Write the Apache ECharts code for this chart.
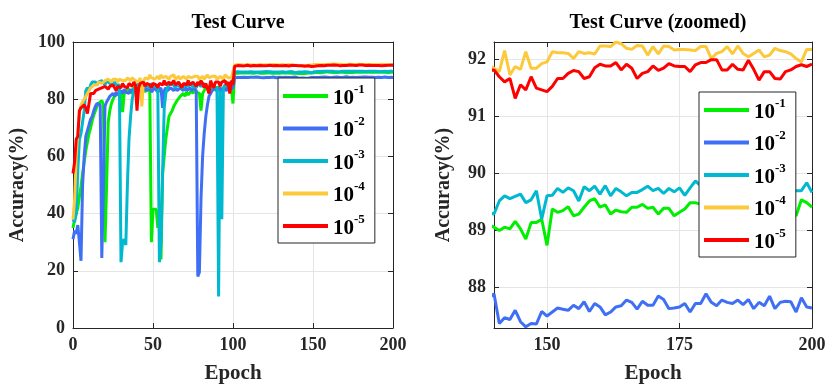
<!DOCTYPE html>
<html>
<head>
<meta charset="utf-8">
<script src="https://cdn.jsdelivr.net/npm/echarts@6/dist/echarts.min.js"></script>
<style>
  html, body { margin: 0; padding: 0; background: #fff; }
  #chart { width: 830px; height: 389px; }
</style>
</head>
<body>
<div id="chart"></div>
<script>
// accuracy per epoch (index = epoch 0..200)
const acc1 = [ // 10^-1
  35, 38, 40, 42, 46, 49.5, 54, 58, 62, 65,
  68, 70, 72.5, 74.5, 76, 77.5, 78.5, 79, 79.5, 78,
  30, 50, 72, 76, 78.5, 80, 81, 80.5, 82, 81.5,
  82, 75.5, 82, 83, 82.5, 83.5, 82, 83, 84, 83,
  82.5, 84, 83, 83.5, 84, 82.5, 83.5, 84, 83, 30,
  41.5, 41, 41.5, 35, 40, 24, 54, 60, 66, 70,
  74, 75, 76, 77.5, 78, 79.5, 80, 81, 80.5, 82,
  81, 82.5, 81.5, 82, 83, 82, 83.5, 82.5, 83, 82,
  76, 82, 83, 84, 83.5, 84, 83, 84.5, 83.5, 84,
  83, 84.5, 83.5, 84, 83, 84, 83.5, 84.5, 83, 84,
  78.5, 89.1, 89.2, 89.05, 89.15, 89.25, 89.1, 89.2, 89.3, 89.15,
  89.05, 89.2, 89.25, 89.1, 89.2, 89.3, 89.15, 89.05, 89.2, 89.1,
  89.25, 89.15, 89.05, 89.2, 89.3, 89.1, 89.2, 89.15, 89.25, 89.05,
  89.15, 89.2, 89.1, 89.25, 89.0, 89.15, 89.2, 89.1, 89.05, 89.1,
  89.05, 88.99, 89.05, 89.02, 89.15, 89.02, 88.84, 89.13, 89.13, 89.19,
  88.73, 89.37, 89.31, 89.34, 89.41, 89.25, 89.28, 89.40, 89.51, 89.55,
  89.40, 89.44, 89.28, 89.35, 89.32, 89.31, 89.40, 89.40, 89.45, 89.38,
  89.40, 89.28, 89.38, 89.38, 89.25, 89.31, 89.37, 89.48, 89.48, 89.45,
  89.40, 89.46, 89.38, 89.44, 89.50, 89.42, 89.36, 89.45, 89.40, 89.47,
  89.39, 89.44, 89.35, 89.42, 89.48, 89.38, 89.30, 89.25, 89.53, 89.48,
  89.40
];
const acc2 = [ // 10^-2
  31, 34, 33, 36, 30, 23.5, 50, 60, 67, 69,
  71, 73, 74, 76, 77.5, 78.5, 79, 78, 24.5, 50,
  77.5, 79, 80, 81, 80.5, 82, 81, 82.5, 81.5, 82,
  83, 82, 83.5, 82.5, 83, 82, 83.5, 82.5, 83, 84,
  82.5, 83, 84, 83, 82.5, 84, 83, 83.5, 84, 82.5,
  83, 84, 83.5, 82.5, 83, 84, 77, 83, 84, 83,
  82.5, 84, 83.5, 83, 84, 83, 82.5, 84, 83.5, 83,
  84.5, 83, 83.5, 84, 83, 82.5, 84, 83, 18, 19.5,
  45, 60, 68, 74, 78, 81, 82, 83, 82.5, 84,
  83, 83.5, 84, 82.5, 84, 83.5, 83, 84.5, 83.5, 84,
  84, 87.5, 87.6, 87.55, 87.7, 87.6, 87.5, 87.65, 87.7, 87.55,
  87.6, 87.7, 87.5, 87.65, 87.6, 87.75, 87.55, 87.6, 87.7, 87.5,
  87.65, 87.6, 87.7, 87.55, 87.65, 87.75, 87.6, 87.5, 87.65, 87.7,
  87.55, 87.6, 87.7, 87.65, 87.5, 87.6, 87.75, 87.65, 87.7, 87.8,
  87.88, 87.36, 87.46, 87.43, 87.59, 87.39, 87.30, 87.36, 87.35, 87.57,
  87.49, 87.56, 87.63, 87.61, 87.59, 87.68, 87.62, 87.74, 87.57, 87.71,
  87.65, 87.51, 87.56, 87.65, 87.67, 87.77, 87.73, 87.61, 87.75, 87.68,
  87.68, 87.84, 87.78, 87.62, 87.63, 87.65, 87.71, 87.56, 87.71, 87.71,
  87.88, 87.73, 87.67, 87.77, 87.73, 87.71, 87.77, 87.69, 87.78, 87.62,
  87.73, 87.67, 87.84, 87.62, 87.73, 87.75, 87.74, 87.56, 87.81, 87.65,
  87.63
];
const acc3 = [ // 10^-3
  38, 37, 40, 55, 66, 68, 72, 76, 83, 84,
  83, 85, 86, 85.5, 86, 85, 86, 85.5, 86.5, 86,
  85, 86.5, 86, 85.5, 86, 85, 86, 85, 84.5, 85,
  23, 30, 31, 29, 50, 66, 74, 80, 83, 84,
  85, 84.5, 85.5, 84, 85, 85.5, 84.5, 85, 84, 85.5,
  85, 84.5, 85, 84, 23, 30, 54, 77, 82, 84,
  85, 84.5, 85.5, 85, 84, 85, 85.5, 84.5, 85, 84,
  85.5, 85, 84.5, 85, 85.5, 84, 85, 84, 85.5, 85,
  84.5, 85, 85.5, 84.5, 85, 84, 85.5, 85, 84.5, 85,
  84, 11, 83, 38, 84, 85, 84.5, 85.5, 84, 85,
  84.5, 89.4, 89.5, 89.6, 89.45, 89.55, 89.6, 89.5, 89.65, 89.55,
  89.5, 89.6, 89.45, 89.55, 89.65, 89.5, 89.6, 89.55, 89.45, 89.6,
  89.55, 89.65, 89.5, 89.6, 89.45, 89.55, 89.65, 89.5, 89.6, 89.55,
  89.5, 89.6, 89.65, 89.45, 89.55, 89.6, 89.5, 89.65, 89.4, 89.3,
  89.28, 89.51, 89.60, 89.55, 89.59, 89.63, 89.48, 89.53, 89.69, 89.19,
  89.60, 89.61, 89.73, 89.66, 89.74, 89.69, 89.51, 89.76, 89.69, 89.77,
  89.63, 89.78, 89.60, 89.73, 89.67, 89.60, 89.66, 89.66, 89.71, 89.77,
  89.69, 89.73, 89.64, 89.73, 89.67, 89.74, 89.61, 89.74, 89.86, 89.78,
  89.72, 89.80, 89.75, 89.70, 89.78, 89.73, 89.68, 89.76, 89.72, 89.79,
  89.74, 89.70, 89.77, 89.72, 89.68, 89.75, 89.70, 89.69, 89.69, 89.83,
  89.66
];
const acc4 = [ // 10^-4
  38, 45, 60, 68, 75, 78, 79, 80, 80.5, 82,
  83, 84, 84.5, 85, 85.5, 85, 86, 86.5, 85.5, 86,
  86.5, 86, 87, 86.5, 86, 87, 86.5, 87, 86, 87,
  87.5, 86.5, 87, 86.5, 87.5, 87, 86.5, 87.5, 87, 86.5,
  87, 86, 87.5, 77.5, 86, 87.5, 88, 87, 88.5, 87.5,
  88, 87, 87.5, 88, 87, 88.5, 87.5, 87, 88, 87.5,
  87, 88, 87.5, 88.5, 87, 87.5, 88, 87, 87.5, 88,
  87.5, 87, 88, 88.5, 87.5, 87, 88, 87.5, 88, 87,
  87.5, 88, 87, 87.5, 88.5, 87.5, 87, 88, 87.5, 88,
  87, 87.5, 88, 87.5, 87, 88.5, 88, 87.5, 88, 87.5,
  88, 91.9, 92.0, 92.1, 91.95, 92.05, 92.1, 91.9, 92.0, 92.15,
  92.05, 91.95, 92.1, 92.0, 92.1, 91.9, 92.05, 92.15, 92.0, 91.95,
  92.1, 92.05, 92.15, 91.95, 92.0, 92.1, 91.9, 92.05, 92.1, 92.0,
  91.95, 92.15, 92.05, 91.9, 92.0, 92.1, 91.95, 91.85, 92.05, 91.9,
  91.84, 91.78, 92.15, 91.72, 91.87, 91.82, 92.13, 91.84, 91.84, 91.92,
  91.95, 92.13, 92.11, 92.11, 92.10, 92.01, 92.13, 92.10, 92.11, 92.09,
  92.23, 92.23, 92.22, 92.30, 92.27, 92.19, 92.17, 92.24, 92.23, 92.07,
  92.22, 92.09, 92.23, 92.22, 92.16, 92.17, 92.17, 92.16, 92.15, 92.22,
  92.22, 92.01, 92.10, 92.13, 92.22, 92.09, 92.23, 92.10, 92.04, 92.10,
  92.16, 92.04, 92.07, 92.19, 92.15, 92.13, 92.09, 92.01, 91.95, 92.17,
  92.17
];
const acc5 = [ // 10^-5
  54, 58, 66, 67, 76, 77, 77.5, 78, 77, 75,
  74.5, 82, 82.5, 82, 83, 82.5, 83.5, 83, 84, 83.5,
  84.5, 84, 83.5, 84.5, 84, 85, 84, 83, 84.5, 85,
  84, 85.5, 84.5, 85, 84, 85.5, 85, 84.5, 86, 85,
  76, 84, 85.5, 85, 86, 84.5, 85.5, 86, 85, 84,
  85.5, 86, 85, 84, 85.5, 86, 85, 86.5, 85, 84.5,
  86, 85, 85.5, 86.5, 85, 84.5, 86, 85.5, 84, 85.5,
  86, 85, 86.5, 85, 84.5, 86, 85.5, 84.5, 86, 85,
  86.5, 85.5, 84, 85.5, 86, 82, 86.5, 85, 84, 86,
  85.5, 86, 84.5, 86, 85.5, 86.5, 85, 86, 82, 86.5,
  85, 91.5, 91.6, 91.75, 91.6, 91.7, 91.8, 91.65, 91.7, 91.85,
  91.7, 91.6, 91.75, 91.8, 91.65, 91.7, 91.85, 91.75, 91.6, 91.7,
  91.8, 91.7, 91.65, 91.85, 91.75, 91.7, 91.6, 91.8, 91.75, 91.7,
  91.85, 91.7, 91.65, 91.8, 91.75, 91.6, 91.7, 91.85, 91.75, 91.8,
  91.81, 91.69, 91.60, 91.66, 91.31, 91.55, 91.46, 91.69, 91.49, 91.46,
  91.43, 91.52, 91.66, 91.66, 91.75, 91.80, 91.78, 91.66, 91.69, 91.85,
  91.91, 91.88, 91.88, 91.94, 91.81, 91.91, 91.84, 91.66, 91.75, 91.78,
  91.88, 91.80, 91.84, 91.92, 91.88, 91.87, 91.87, 91.78, 91.90, 91.94,
  91.94, 91.99, 91.99, 91.81, 91.81, 91.91, 91.82, 91.81, 91.98, 91.82,
  91.63, 91.78, 91.78, 91.66, 91.65, 91.78, 91.81, 91.87, 91.90, 91.87,
  91.91
];

const seriesNames = ['10^-1', '10^-2', '10^-3', '10^-4', '10^-5'];
const seriesData = [acc1, acc2, acc3, acc4, acc5];
const seriesColors = ['#00ee00', '#3f6ff5', '#00b8d0', '#fcc93b', '#ff0000'];
const zoomTicksX = [150, 175, 200];
const zoomTicksY = [88, 89, 90, 91, 92];

const font = '"Liberation Serif", "Times New Roman", serif';
const ink = '#262626';
const labelStyle = { fontFamily: font, fontWeight: 'bold', fontSize: 18, color: ink };
const nameStyle = { fontFamily: font, fontWeight: 'bold', fontSize: 20, color: ink };
const epochStyle = { fontFamily: font, fontWeight: 'bold', fontSize: 21, color: ink };
const titleStyle = { fontFamily: font, fontWeight: 'bold', fontSize: 20, color: '#000' };

const axisCommon = {
  type: 'value',
  axisLine: { show: true, onZero: false, lineStyle: { color: ink, width: 1 } },
  axisTick: { show: true, inside: true, length: 5, lineStyle: { color: ink } },
  splitLine: { show: false }
};

function axis(extra) {
  return Object.assign({}, axisCommon, extra);
}

const gridLine = { show: true, lineStyle: { color: '#e5e5e5', width: 1 } };

const myChart = echarts.init(document.getElementById('chart'));

const series = [];
seriesData.forEach((arr, i) => {
  const pts = arr.map((v, epoch) => [epoch, v]);
  [[0, 0], [2, 2]].forEach(([xi, yi]) => {
    series.push({
      name: seriesNames[i],
      type: 'line',
      xAxisIndex: xi,
      yAxisIndex: yi,
      data: pts,
      symbol: 'none',
      color: seriesColors[i],
      lineStyle: { width: 3, color: seriesColors[i] },
      clip: true
    });
  });
});

const legendCommon = {
  orient: 'vertical',
  icon: 'rect',
  itemWidth: 45,
  itemHeight: 4,
  itemGap: 6.5,
  padding: [5, 10, 4, 5],
  backgroundColor: '#fff',
  borderColor: ink,
  borderWidth: 1,
  borderRadius: 0,
  z: 10,
  data: seriesNames,
  formatter: (name) => '{b|10}{s|' + name.split('^')[1] + '}',
  textStyle: {
    rich: {
      b: { fontFamily: font, fontWeight: 'bold', fontSize: 21, color: '#000', lineHeight: 26, verticalAlign: 'bottom' },
      s: { fontFamily: font, fontWeight: 'bold', fontSize: 13, color: '#000', lineHeight: 14, verticalAlign: 'top' }
    }
  }
};

const option = {
  animation: false,
  backgroundColor: '#fff',
  title: [
    { text: 'Test Curve', left: 233, top: 8, textAlign: 'center', textStyle: titleStyle },
    { text: 'Test Curve (zoomed)', left: 653, top: 8, textAlign: 'center', textStyle: titleStyle }
  ],
  legend: [
    Object.assign({ left: 278, top: 78 }, legendCommon),
    Object.assign({ left: 699, top: 92 }, legendCommon)
  ],
  grid: [
    { left: 73, right: 437, top: 42, bottom: 60 },
    { left: 494, right: 18, top: 42, bottom: 60 }
  ],
  xAxis: [
    axis({ gridIndex: 0, min: 0, max: 200, interval: 50, position: 'bottom',
      axisLabel: Object.assign({ margin: 8 }, labelStyle), splitLine: gridLine,
      name: 'Epoch', nameLocation: 'middle', nameGap: 35, nameTextStyle: epochStyle }),
    axis({ gridIndex: 0, min: 0, max: 200, interval: 50, position: 'top', axisLabel: { show: false } }),
    axis({ gridIndex: 1, min: 140, max: 200, position: 'bottom',
      axisTick: Object.assign({}, axisCommon.axisTick, { customValues: zoomTicksX }),
      axisLabel: Object.assign({ margin: 8, customValues: zoomTicksX }, labelStyle), splitLine: gridLine,
      name: 'Epoch', nameLocation: 'middle', nameGap: 35, nameTextStyle: epochStyle }),
    axis({ gridIndex: 1, min: 140, max: 200, position: 'top', axisLabel: { show: false },
      axisTick: Object.assign({}, axisCommon.axisTick, { customValues: zoomTicksX }) })
  ],
  yAxis: [
    axis({ gridIndex: 0, min: 0, max: 100, interval: 20, position: 'left',
      axisLabel: Object.assign({ margin: 8 }, labelStyle), splitLine: gridLine,
      name: 'Accuracy(%)', nameLocation: 'middle', nameGap: 45, nameTextStyle: nameStyle }),
    axis({ gridIndex: 0, min: 0, max: 100, interval: 20, position: 'right', axisLabel: { show: false } }),
    axis({ gridIndex: 1, min: 87.28, max: 92.3, position: 'left',
      axisTick: Object.assign({}, axisCommon.axisTick, { customValues: zoomTicksY }),
      axisLabel: Object.assign({ margin: 8, customValues: zoomTicksY }, labelStyle), splitLine: gridLine,
      name: 'Accuracy(%)', nameLocation: 'middle', nameGap: 40, nameTextStyle: nameStyle }),
    axis({ gridIndex: 1, min: 87.28, max: 92.3, position: 'right', axisLabel: { show: false },
      axisTick: Object.assign({}, axisCommon.axisTick, { customValues: zoomTicksY }) })
  ],
  series: series
};

myChart.setOption(option);
</script>
</body>
</html>
